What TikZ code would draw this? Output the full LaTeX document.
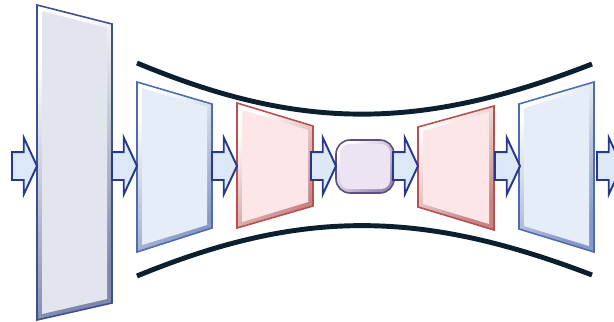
\documentclass[tikz,border=0pt]{standalone}
\usetikzlibrary{shapes.arrows}
\definecolor{arrowfill}{HTML}{DCE8F5}
\definecolor{arrowline}{HTML}{26398C}
\definecolor{railcol}{HTML}{0C1F2E}
\definecolor{greyface}{HTML}{E3E5EE}
\definecolor{greyedge}{HTML}{7F88AA}
\definecolor{greyline}{HTML}{3E5090}
\definecolor{blueface}{HTML}{E5EDF9}
\definecolor{blueedge}{HTML}{8799C4}
\definecolor{blueline}{HTML}{4E6CB0}
\definecolor{redface}{HTML}{FDE6E7}
\definecolor{rededge}{HTML}{C68484}
\definecolor{redline}{HTML}{B85050}
\definecolor{lilaface}{HTML}{ECE4F3}
\definecolor{lilaedge}{HTML}{9A8AB2}
\definecolor{lilaline}{HTML}{5E4E80}
\tikzset{
  flow/.style     = {single arrow, draw=arrowline, fill=arrowfill, line width=1.1pt, minimum height=5mm, inner xsep=0pt, inner ysep=2.6mm, single arrow head extend=2.9mm, single arrow tip angle=130, anchor=tip, outer sep=0pt},
  rail/.style     = {draw=railcol, line width=2.8pt},
  bevel/.style    = {top color=white, bottom color=#1, shading angle=45},
  edge/.style     = {draw=#1, line width=0.9pt},
  greypanel/.style = {bevel=greyedge},
  bluepanel/.style = {bevel=blueedge},
  redpanel/.style  = {bevel=rededge},
  lilapanel/.style = {bevel=lilaedge}
}

\begin{document}
\begin{tikzpicture}[x=0.02cm, y=-0.02cm]

  \useasboundingbox (0,0) rectangle (614,321);

  % ---------------- RAILS ----------------
  \draw[rail] (137,63) .. controls (300,131) and (420,131) .. (592,64);
  \draw[rail] (137,276) .. controls (300,209) and (420,209) .. (592,275);

  % ---------------- PANELS ----------------
  % input slab
  \shade[greypanel] (37,5) -- (112,24) -- (112,303) -- (37,320) -- cycle;
  \fill[greyface] (42,11) -- (107,28) -- (107,299) -- (42,314) -- cycle;
  \draw[edge=greyline] (37,5) -- (112,24) -- (112,303) -- (37,320) -- cycle;

  % encoder
  \shade[bluepanel] (137,82) -- (212,104) -- (212,228) -- (137,252) -- cycle;
  \fill[blueface] (142,88) -- (207,107) -- (207,225) -- (142,245) -- cycle;
  \draw[edge=blueline] (137,82) -- (212,104) -- (212,228) -- (137,252) -- cycle;

  \shade[redpanel] (237,103) -- (313,126) -- (313,206) -- (237,228) -- cycle;
  \fill[redface] (242,110) -- (308,130) -- (308,202) -- (242,222) -- cycle;
  \draw[edge=redline] (237,103) -- (313,126) -- (313,206) -- (237,228) -- cycle;

  % bottleneck
  \shade[lilapanel, rounded corners=8] (336,140) rectangle (394,193);
  \fill[lilaface, rounded corners=5] (340,144) rectangle (390,189);
  \draw[edge=lilaline, rounded corners=8] (336,140) rectangle (394,193);

  % decoder
  \shade[redpanel] (418,127) -- (494,106) -- (494,230) -- (418,207) -- cycle;
  \fill[redface] (423,131) -- (489,112) -- (489,224) -- (423,204) -- cycle;
  \draw[edge=redline] (418,127) -- (494,106) -- (494,230) -- (418,207) -- cycle;

  \shade[bluepanel] (519,104) -- (594,82) -- (594,252) -- (519,229) -- cycle;
  \fill[blueface] (524,108) -- (589,89) -- (589,246) -- (524,226) -- cycle;
  \draw[edge=blueline] (519,104) -- (594,82) -- (594,252) -- (519,229) -- cycle;

  % ---------------- ARROWS ----------------
  \node[flow] (a1) at (37,166) {};
  \node[flow] (a2) at (137,166) {};
  \node[flow] (a3) at (237,166) {};
  \node[flow] (a4) at (336,166) {};
  \node[flow] (a5) at (418,166) {};
  \node[flow] (a6) at (520,166) {};
  \node[flow] (a7) at (622,166) {};

\end{tikzpicture}
\end{document}
